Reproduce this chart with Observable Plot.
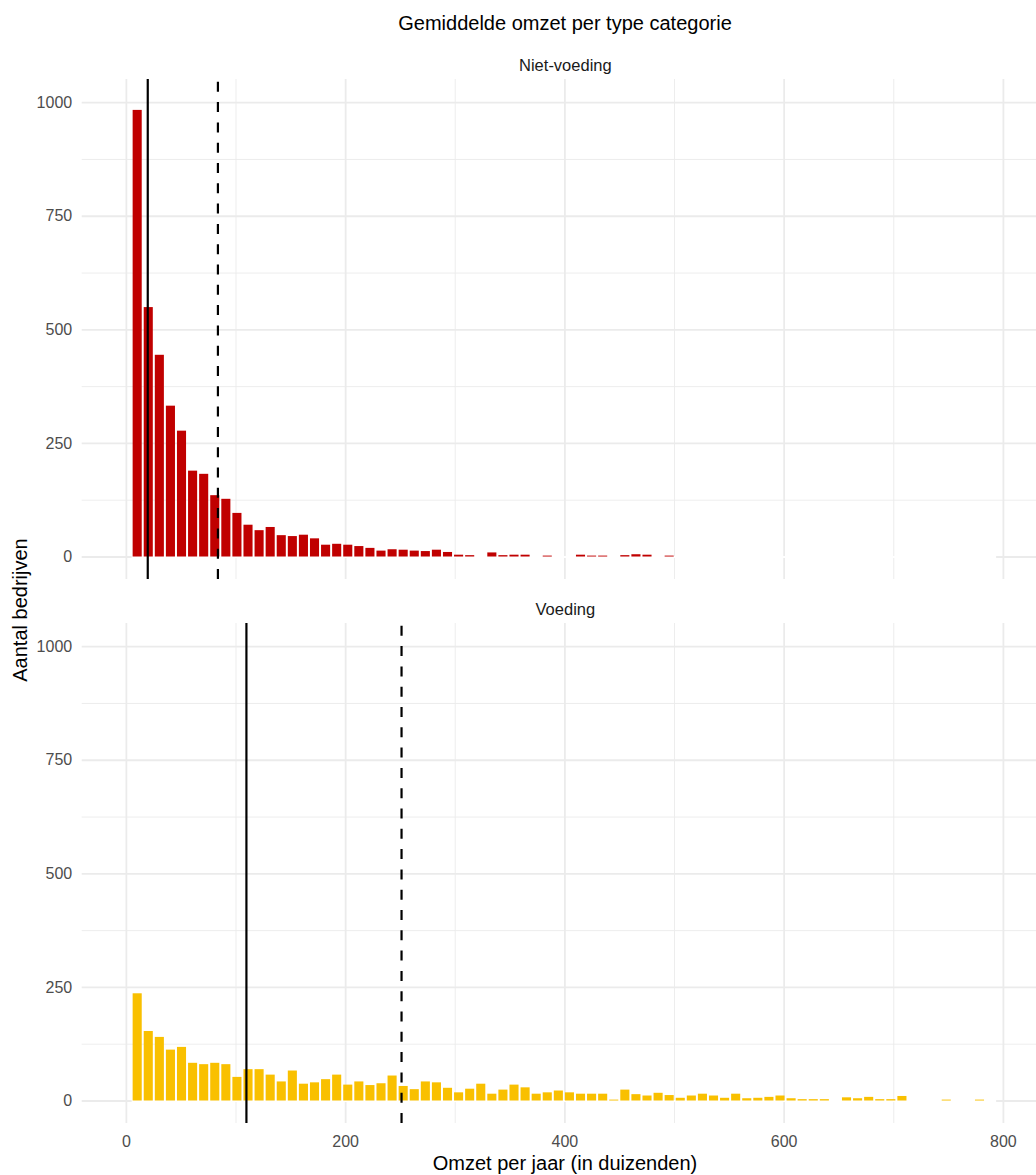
<!DOCTYPE html>
<html>
<head>
<meta charset="utf-8">
<script src="https://cdn.jsdelivr.net/npm/d3@7"></script>
<script src="https://cdn.jsdelivr.net/npm/@observablehq/plot@0.6"></script>
<style>
  html, body { margin: 0; padding: 0; background: #fff; }
  #chart { width: 1036px; height: 1175px; }
</style>
</head>
<body>
<div id="chart"></div>
<script>
// ---- data ----
const categories = ["Niet-voeding", "Voeding"];
const colors = ["#C00000", "#F9C000"];
const binStart = 5.25;     // left edge of the first bin (duizenden)
const binWidth = 10.11;    // bin width (duizenden)
const countsNiet = [983, 549, 444, 332, 277, 189, 182, 135, 127, 96,
  70, 58, 65, 47, 45, 48, 40, 26, 28, 26,
  23, 19, 13, 16, 15, 13, 12, 15, 10, 4,
  3, 0, 9, 3, 4, 4, 0, 2, 0, 0,
  4, 2, 2, 0, 3, 5, 4, 0, 2, 0,
  0, 0, 0, 0, 0, 0, 0, 0, 0, 0,
  0, 0, 0, 0, 0, 0, 0, 0, 0, 0,
  0, 0, 0, 0, 0, 0, 0, 0];
const countsVoeding = [236, 153, 140, 112, 118, 83, 80, 83, 80, 52,
  69, 69, 57, 42, 66, 37, 40, 47, 57, 35,
  42, 34, 38, 55, 32, 25, 42, 40, 28, 18,
  26, 37, 15, 24, 35, 29, 15, 18, 22, 18,
  15, 15, 15, 2, 24, 14, 11, 17, 12, 6,
  11, 15, 11, 6, 15, 5, 6, 8, 11, 5,
  3, 3, 3, 0, 7, 5, 8, 3, 3, 10,
  0, 0, 0, 2, 0, 0, 2, 0];
const medians = [19.5, 109.5];   // solid lines
const means = [83.5, 251];       // dashed lines
const xTicks = [0, 200, 400, 600, 800];
const xMinor = [100, 300, 500, 700];
const yTicks = [0, 250, 500, 750, 1000];
const yMinor = [125, 375, 625, 875];
const titleText = "Gemiddelde omzet per type categorie";
const xLabel = "Omzet per jaar (in duizenden)";
const yLabel = "Aantal bedrijven";

// ---- tables built from the arrays ----
const countSets = [countsNiet, countsVoeding];
const bars = [];
countSets.forEach((counts, k) => {
  counts.forEach((c, i) => {
    bars.push({cat: categories[k], x1: binStart + i * binWidth, x2: binStart + (i + 1) * binWidth, count: c});
  });
});
const nBins = countsNiet.length;
const medianRows = categories.map((c, k) => ({cat: c, value: medians[k]}));
const meanRows = categories.map((c, k) => ({cat: c, value: means[k]}));
const yDomain = [-49.5, 1051];
const xDomain = [-40.3, 830.2];

const font = "'Liberation Sans', Arial, Helvetica, sans-serif";

const plot = Plot.plot({
  width: 1036,
  height: 1175,
  marginTop: 79,
  marginBottom: 52,
  marginLeft: 81.7,
  marginRight: 0,
  style: {fontFamily: font, background: "#fff", overflow: "visible"},
  x: {domain: xDomain},
  y: {domain: yDomain},
  fy: {domain: categories, paddingInner: 44 / 544, paddingOuter: 0, axis: null},
  color: {domain: categories, range: colors},
  marks: [
    Plot.ruleY(yMinor, {stroke: "#EBEBEB", strokeWidth: 0.9}),
    Plot.ruleX(xMinor, {stroke: "#EBEBEB", strokeWidth: 0.9}),
    Plot.ruleY(yTicks, {stroke: "#EBEBEB", strokeWidth: 1.8}),
    Plot.ruleX(xTicks, {stroke: "#EBEBEB", strokeWidth: 1.8}),
    Plot.ruleY([0], {x1: binStart, x2: binStart + nBins * binWidth, stroke: "#fff", strokeWidth: 2}),
    Plot.rectY(bars, {x1: "x1", x2: "x2", y: "count", fy: "cat", fill: "cat", insetLeft: 1, insetRight: 1}),
    Plot.ruleX(medianRows, {x: "value", fy: "cat", y1: yDomain[0], y2: yDomain[1], stroke: "#000", strokeWidth: 2.2}),
    Plot.ruleX(meanRows, {x: "value", fy: "cat", y1: yDomain[0], y2: yDomain[1], stroke: "#000", strokeWidth: 2.2, strokeDasharray: "10,10.3"}),
    Plot.text(categories, {fy: d => d, text: d => d, frameAnchor: "top", lineAnchor: "bottom", dy: -9, dx: 6, fontSize: 16.5, fill: "#1A1A1A"}),
    Plot.axisY({ticks: yTicks, tickSize: 0, tickPadding: 10, label: null, fontSize: 16, color: "#4D4D4D", tickFormat: d => String(d)}),
    Plot.axisX({ticks: xTicks, tickSize: 0, tickPadding: 12, label: null, fontSize: 16, color: "#4D4D4D", tickFormat: d => String(d)})
  ]
});

const svg = d3.select(plot);
svg.append("text").attr("x", 565).attr("y", 30).attr("text-anchor", "middle")
  .attr("font-size", 20).attr("fill", "#000").attr("font-family", font).text(titleText);
svg.append("text").attr("x", 565).attr("y", 1170).attr("text-anchor", "middle")
  .attr("font-size", 20).attr("fill", "#000").attr("font-family", font).text(xLabel);
svg.append("text").attr("transform", "translate(27,610) rotate(-90)").attr("text-anchor", "middle")
  .attr("font-size", 20).attr("fill", "#000").attr("font-family", font).text(yLabel);

document.getElementById("chart").appendChild(plot);
</script>
</body>
</html>
